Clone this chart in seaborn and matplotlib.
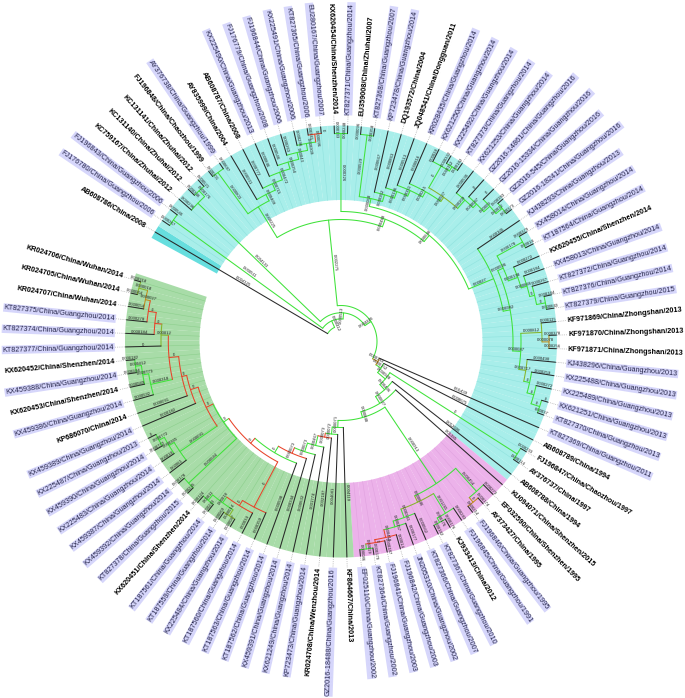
import numpy as np
import pandas as pd
import matplotlib
matplotlib.use("Agg")
import matplotlib.pyplot as plt
import seaborn as sns

# Taxa, clockwise from the top-left wedge
leaf_labels = [
    "AB608786/China/2008", "FJ176780/China/Guangzhou/2006", "FJ196843/China/Guangzhou/2006",
    "KC759167/China/Zhuhai/2012", "KC131140/China/Zhuhai/2012", "KC131141/China/Zhuhai/2012",
    "FJ196848/China/Chaozhou/1999", "AY376738/China/Guangzhou/1999", "AY835999/China/2004",
    "AB608787/China/2008", "KX225490/China/Guangzhou/2013", "FJ176779/China/Guangzhou/2008",
    "FJ196844/China/Guangzhou/2006", "KX225491/China/Guangzhou/2006", "KT827365/China/Guangzhou/2006",
    "EU280167/China/Guangzhou/2007", "KX620454/China/Shenzhen/2014", "KT827371/China/Guangzhou/2014",
    "EU359008/China/Zhuhai/2007", "KT827368/China/Guangzhou/2007", "KP723478/China/Guangzhou/2014",
    "DQ193572/China/2004", "JQ048541/China/Dongguan/2011", "KR028435/China/Guangzhou/2014",
    "KX621250/China/Guangzhou/2014", "KX225492/China/Guangzhou/2014", "KT827373/China/Guangzhou/2014",
    "KX621253/China/Guangzhou/2014", "GZ2016-14861/China/Guangzhou/2016", "GZ2016-15334/China/Guangzhou/2016",
    "GZ2016-545/China/Guangzhou/2016", "GZ2016-18241/China/Guangzhou/2016", "KJ438293/China/Guangzhou/2013",
    "KX458014/China/Guangzhou/2014", "KT187564/China/Guangzhou/2014", "KX620455/China/Shenzhen/2014",
    "KX458013/China/Guangzhou/2014", "KT827372/China/Guangzhou/2014", "KT827376/China/Guangzhou/2014",
    "KT827379/China/Guangzhou/2015", "KF971869/China/Zhongshan/2013", "KF971870/China/Zhongshan/2013",
    "KF971871/China/Zhongshan/2013", "KJ438296/China/Guangzhou/2013", "KX225488/China/Guangzhou/2013",
    "KX225489/China/Guangzhou/2013", "KX621251/China/Guangzhou/2013", "KT827370/China/Guangzhou/2013",
    "KT827369/China/Guangzhou/2011", "AB608789/China/1994", "FJ196847/China/Chaozhou/1997",
    "AY376737/China/1997", "AB608788/China/1994", "KU094071/China/Shenzhen/2015",
    "EF032590/China/Shenzhen/1995", "AY373427/China/1995", "FJ196846/China/Guangzhou/1995",
    "FJ196845/China/Guangzhou/1991", "KJ933413/China/2012", "KT827367/China/Guangzhou/2010",
    "KT827366/China/Guangzhou/2007", "JN205310/China/Guangzhou/2002", "FJ196842/China/Guangzhou/2003",
    "FJ196841/China/Guangzhou/2003", "KT827364/China/Guangzhou/2002", "EF025110/China/Guangzhou/2002",
    "KF864667/China/2013", "GZ2016-18488/China/Guangzhou/2016", "KR024708/China/Wenzhou/2014",
    "KP723473/China/Guangzhou/2014", "KX621249/China/Guangzhou/2014", "KX459391/China/Guangzhou/2014",
    "KT187562/China/Guangzhou/2014", "KT187563/China/Guangzhou/2014", "KT187560/China/Guangzhou/2014",
    "KX225484/China/Guangzhou/2014", "KT187559/China/Guangzhou/2014", "KT187561/China/Guangzhou/2014",
    "KX620451/China/Shenzhen/2014", "KT827378/China/Guangzhou/2015", "KX459392/China/Guangzhou/2014",
    "KX459387/China/Guangzhou/2014", "KX225483/China/Guangzhou/2014", "KX459390/China/Guangzhou/2014",
    "KX225487/China/Guangzhou/2013", "KX459389/China/Guangzhou/2014", "KP686070/China/2014",
    "KX459386/China/Guangzhou/2014", "KX620453/China/Shenzhen/2014", "KX459388/China/Guangzhou/2014",
    "KX620452/China/Shenzhen/2014", "KT827377/China/Guangzhou/2014", "KT827374/China/Guangzhou/2014",
    "KT827375/China/Guangzhou/2014", "KR024707/China/Wuhan/2014", "KR024705/China/Wuhan/2014",
    "KR024706/China/Wuhan/2014",
]

# taxa printed in bold black, without the lavender box (1-based)
plain_taxa = [1, 4, 5, 6, 7, 9, 10, 17, 19, 22, 23, 36, 41, 42, 43, 50, 51, 52, 53, 54, 55, 56,
              59, 67, 69, 79, 87, 89, 91, 95, 96, 97]

leaf_clade = ["dark"] + ["teal"] * 52 + ["pink"] * 13 + ["green"] * 31

leaf_parent = [
    "root", "F23", "F23", "B", "B56", "B56", "F78", "F78", "C2", "C3",
    "C4", "C5", "C6", "C7", "C8", "C8", "F1718", "F1718", "F1920", "F1920",
    "n153", "n160", "n166", "n172", "n202", "F2627", "F2627", "n188", "n193", "n201",
    "F3132", "F3132", "P", "F3435", "F3435", "S", "T", "U", "W", "W",
    "Y", "Y2", "Y2", "Z", "Z2", "Z3", "Z4", "Z4", "c1", "c2",
    "F5152", "F5152", "c4", "c5", "pa", "F5657", "F5657", "pb", "F5960", "F5960",
    "pc", "pc2", "pc3", "pc4", "F6566", "F6566", "G1", "G2", "G3", "G4",
    "G5", "G6", "G7", "G9", "K", "F7677", "F7677", "F7879", "F7879", "H",
    "H", "I", "I2", "F8485", "F8485", "J158", "J163", "m195", "m2", "m3",
    "m3", "J180", "J187", "J195", "J200", "F9697", "F9697",
]

leaf_values = [
    "0.004125", "0.000267", "0.000546", "0.000296", "0.000346", "0.000521", "0.000201", "0.000687", "0.000931", "0.000772",
    "0.000846", "0.000546", "0.000263", "0.000296", "0.000341", "0", "0.000133", "0.000248", "0.000096", "0.000358",
    "0.000667", "0.000863", "0.000513", "0.000816", "0.00028", "0.000332", "0.000182", "0.000536", "0", "0",
    "0.000383", "0.000373", "0.000105", "0.000379", "0.00018", "0.000272", "0.000184", "0.000267", "0.000184", "0.000843",
    "0.000115", "0.000378", "0.000256", "0.000490", "0.000259", "0.000272", "0", "0.00037", "0.01439", "0.008675",
    "0.000233", "0.000114", "0.012606", "0.01385", "0.000273", "0.000174", "0.000214", "0.000283", "0.000176", "0.000182",
    "0.000562", "0.000177", "0.00014", "0.000187", "0.000179", "0.000086", "0.004119", "0.004081", "0.002187", "0.001774",
    "0.000632", "0.000344", "0.000598", "0.000359", "0.00034", "0.000087", "0.000069", "0.000243", "0.000124", "0.000245",
    "0.000178", "0.00061", "0.00018", "0.000772", "0", "0.000182", "0.000091", "0.000592", "0.000589", "0.000284",
    "0.000182", "0", "0.000184", "0.000278", "0.000054", "0.000064", "0.000318",
]

node_names = [
    "root", "N22", "F23", "N28", "B", "B56", "N36", "M", "C", "F78",
    "C2", "C3", "C4", "C5", "C6", "C7", "C8", "n130", "F1718", "n138",
    "n146", "F1920", "n153", "n160", "n166", "n172", "n177", "n202", "F2627", "n188",
    "n193", "n201", "F3132", "P", "Q", "R", "F3435", "S", "T", "U",
    "W", "X", "Y", "Y2", "Z", "Z2", "Z3", "Z4", "c1", "c2",
    "c3", "F5152", "c4", "c5", "c6", "pn1", "pa", "F5657", "pn2", "pb",
    "F5960", "pc", "pc2", "pc3", "pc4", "F6566", "G1", "G2", "G3", "G4",
    "G5", "G6", "G7", "G8", "G9", "K", "L", "F7677", "F7879", "G10",
    "H", "G11", "J158", "J163", "J172", "J180", "J187", "J195", "J200", "F9697",
    "m195", "m2", "m3", "I", "I2", "F8485",
]
node_parent = [
    None, "root", "N22", "N22", "N28", "B", "N28", "N36", "M", "C",
    "C", "C2", "C3", "C4", "C5", "C6", "C7", "M", "n130", "n130",
    "n138", "n146", "n146", "n153", "n160", "n166", "n172", "n177", "n202", "n177",
    "n188", "n193", "n201", "n138", "P", "Q", "R", "R", "S", "T",
    "U", "Q", "X", "Y", "X", "Z", "Z2", "Z3", "N36", "c1",
    "c2", "c3", "c3", "c4", "c5", "c6", "pn1", "pa", "pn1", "pn2",
    "pb", "pn2", "pc", "pc2", "pc3", "pc4", "c6", "G1", "G2", "G3",
    "G4", "G5", "G6", "G7", "G8", "G9", "K", "L", "L", "G8",
    "G10", "G10", "G11", "J158", "J163", "J172", "J180", "J187", "J195", "J200",
    "J172", "m195", "m2", "G11", "I", "I2",
]
# distance from the root
node_depth = [
    15.5, 22.6, 207, 28.7, 199, 207, 36, 122, 158, 209,
    165, 172, 180, 187, 194, 201, 209, 130, 208, 138,
    146, 208, 153, 160, 166, 172, 177, 202, 207, 188,
    193, 201, 209, 165, 172, 178, 207, 188, 194, 199,
    208, 180, 201, 208, 187, 193, 200, 209, 42, 48,
    58, 209, 65, 73, 79, 171, 202, 208, 178, 201,
    206, 187, 193, 201, 204, 209, 86, 93, 97, 107,
    116, 122, 129.5, 136, 187, 193, 200, 207, 207, 142.5,
    208, 150, 158, 163, 172.7, 180, 187, 195, 200, 209,
    195, 201, 207, 195, 201, 207,
]
node_support = [
    "g", "g", "g", "g", "g", "g", "g", "g", "g", "g",
    "g", "g", "g", "g", "g", "g", "r", "g", "g", "g",
    "g", "g", "g", "g", "g", "g", "y", "g", "g", "g",
    "g", "g", "g", "g", "g", "g", "g", "g", "g", "g",
    "g", "g", "y", "o", "y", "g", "g", "g", "o", "g",
    "g", "g", "g", "g", "g", "g", "g", "o", "y", "g",
    "g", "g", "g", "r", "r", "g", "g", "g", "r", "g",
    "g", "r", "g", "r", "r", "r", "g", "y", "g", "g",
    "g", "r", "r", "r", "r", "y", "r", "r", "o", "y",
    "g", "g", "g", "g", "g", "g",
]
node_values = [
    "", "0.000412", "0.000511", "0.000513", "0.004133", "0.000176", "0.004426", "0.002275", "0.000225", "0.000803",
    "0.000409", "0.000715", "0.000472", "0.000254", "0.00043", "0.000309", "0.000096", "0.000488", "0.000326", "0.000646",
    "0.000068", "0.000529", "0.000352", "0.000196", "0.000151", "0.000215", "0.000527", "0", "0.000152", "0.000209",
    "0.000087", "0.00009", "0.00012", "0.00027", "0.000982", "0.000596", "0.000178", "0.000198", "0.000866", "0",
    "0", "0.000087", "0.000812", "0.000078", "0.000717", "0", "0", "0", "0.000183", "0.000152",
    "0.000928", "0", "0.000436", "0.000627", "0.000848", "0.000913", "0.000454", "0", "0.000646", "0.001265",
    "0.000176", "0.000341", "0.000257", "0.000418", "0", "0.00019", "0.000071", "0.000072", "0.000073", "0.000467",
    "0.000073", "0.000073", "0", "0", "0", "0", "0.00018", "0.000014", "0.00011", "0",
    "0.000044", "0", "0", "0", "0", "0.00012", "0", "0", "0.000027", "0.000018",
    "0.000318", "0.000773", "0.000412", "0.000091", "0.000365", "0.000772",
]

# Layout of the fan
START_ANGLE = 151.3
STEP = 3.605
TIP = 215.5
BAND_IN = 141.5
BAND_OUT = 216
LABEL_R = 227
PX_RMAX = 341

palette = {"g": "#3fe23a", "r": "#e8432a", "o": "#c08a1c", "y": "#86b52c", "k": "#2a2a2a"}
band_colors = {"dark": "#66dede", "teal": "#a8eeea", "pink": "#ecb2ea", "green": "#a8dca8"}
band_lines = {"dark": "#55cccc", "teal": "#8fe2de", "pink": "#e0a2df", "green": "#8ccf8c"}

sns.set_theme(style="white")
plt.rcParams["font.family"] = ["Liberation Sans", "DejaVu Sans"]

# Tree layout
leaf_angle = [START_ANGLE - STEP * (i + 0.5) for i in range(len(leaf_labels))]
depth = dict(zip(node_names, node_depth))
parent = dict(zip(node_names, node_parent))
support = dict(zip(node_names, node_support))
values = dict(zip(node_names, node_values))

kids = {n: [] for n in node_names}
for i, p in enumerate(leaf_parent):
    kids[p].append(("leaf", i))
for n in node_names:
    if parent[n] is not None:
        kids[parent[n]].append(("node", n))


def node_angle(name):
    angles = [leaf_angle[k] if t == "leaf" else node_angle(k) for t, k in kids[name]]
    return (min(angles) + max(angles)) / 2


angle_of = {n: node_angle(n) for n in node_names}

rows = []
branch_labels = []


def add_branch(a, r0, r1, color, value):
    bid = len(branch_labels)
    rows.append((bid, a, r0, color))
    rows.append((bid, a, r1, color))
    branch_labels.append((a, (r0 + r1) / 2, value))


for n in node_names:
    a = angle_of[n]
    if parent[n] is not None:
        add_branch(a, depth[parent[n]], depth[n], support[n], values[n])
    child_angles = [leaf_angle[k] if t == "leaf" else angle_of[k] for t, k in kids[n]]
    arc = np.linspace(min(child_angles), max(child_angles), 40)
    bid = len(branch_labels)
    for t in arc:
        rows.append((bid, t, depth[n], support[n]))
    branch_labels.append((a, depth[n], ""))

for i, p in enumerate(leaf_parent):
    add_branch(leaf_angle[i], depth[p], TIP, "k", leaf_values[i])

tree = pd.DataFrame(rows, columns=["branch", "angle", "r", "support"])
tree["theta"] = np.deg2rad(tree["angle"] % 360)

dots = pd.DataFrame(
    [(i, np.deg2rad(a % 360), r) for i, a in enumerate(leaf_angle) for r in (BAND_OUT, LABEL_R - 1)],
    columns=["leaf", "theta", "r"],
)

# Figure, the axes are sized so that one data unit of r is one pixel
fig = plt.figure(figsize=(6.85, 6.98), dpi=100)
ax = fig.add_axes([0, 15.5 / 698, 682 / 685, 682 / 698], polar=True)

# Coloured clade bands
for a, clade in zip(leaf_angle, leaf_clade):
    ax.bar(np.deg2rad(a % 360), BAND_OUT - BAND_IN, width=np.deg2rad(STEP) * 1.01, bottom=BAND_IN,
           color=band_colors[clade], linewidth=0, zorder=1)
    ax.plot([np.deg2rad(a % 360)] * 2, [BAND_IN, BAND_OUT], color=band_lines[clade], lw=0.4, zorder=1.5)

sns.lineplot(data=dots, x="theta", y="r", units="leaf", estimator=None, sort=False, legend=False,
             color="#999999", lw=0.5, linestyle=":", ax=ax, zorder=2)
sns.lineplot(data=tree, x="theta", y="r", hue="support", palette=palette, units="branch", estimator=None,
             sort=False, legend=False, lw=0.75, ax=ax, zorder=3)

# Branch length labels along each branch
for a, r, value in branch_labels:
    if value == "":
        continue
    deg = a % 360
    rot = deg - 180 if 90 < deg < 270 else deg
    ax.text(np.deg2rad(deg), r, value, fontsize=3.1, color="#222222", rotation=rot, rotation_mode="anchor",
            ha="center", va="bottom", zorder=4)

# Taxon labels
for i, (a, label) in enumerate(zip(leaf_angle, leaf_labels)):
    deg = a % 360
    left = 90 < deg < 270
    rot = deg - 180 if left else deg
    if i + 1 in plain_taxa:
        kw = dict(color="black", fontweight="bold")
    else:
        kw = dict(color="#26264a", bbox=dict(facecolor="#d6d6fb", edgecolor="none", pad=0.5))
    ax.text(np.deg2rad(deg), LABEL_R, label, fontsize=5.2, rotation=rot, rotation_mode="anchor",
            ha="right" if left else "left", va="center", zorder=5, **kw)

ax.set_xlim(0, 2 * np.pi)
ax.set_ylim(0, PX_RMAX)
ax.axis("off")

plt.savefig("out.png", dpi=100)
